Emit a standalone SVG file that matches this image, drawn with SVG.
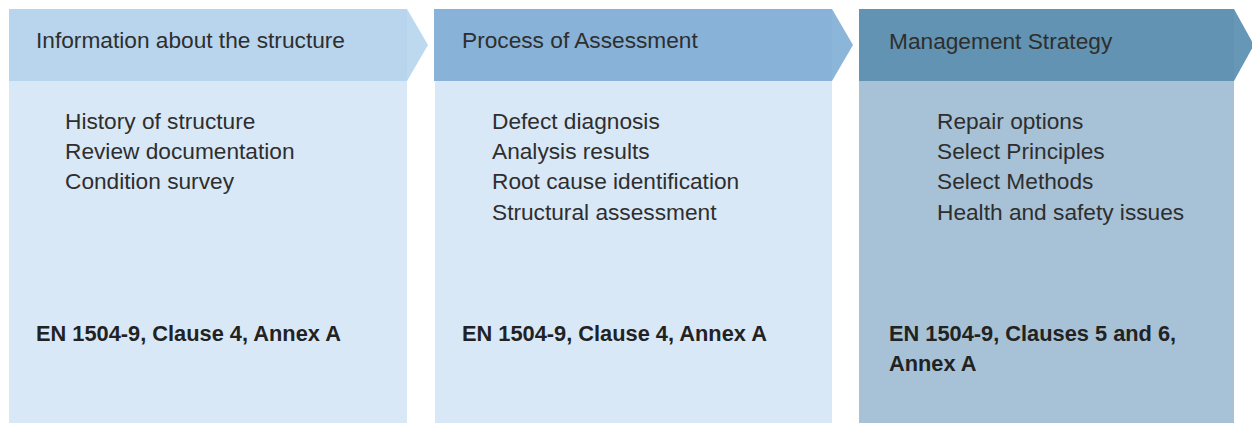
<svg xmlns="http://www.w3.org/2000/svg" width="1252" height="423" viewBox="0 0 1252 423">
<style>
.h{font-family:"Liberation Sans",Arial,sans-serif;font-size:22.7px;fill:#2e2e2e}
.i{font-family:"Liberation Sans",Arial,sans-serif;font-size:22.7px;fill:#2e2e2e}
.b{font-family:"Liberation Sans",Arial,sans-serif;font-size:21.8px;font-weight:bold;fill:#222}
</style>
<rect width="1252" height="423" fill="#ffffff"/>
<g id="node1">
<rect x="9" y="81" width="398" height="342" fill="#d9e8f7"/>
<rect x="9" y="9" width="398" height="72" fill="#b8d5ed"/>
<polygon points="407,9 428,45 407,81" fill="#bdd9f0"/>
<text class="h" x="36" y="48">Information about the structure</text>
<text class="i" x="65" y="129">History of structure</text>
<text class="i" x="65" y="159">Review documentation</text>
<text class="i" x="65" y="189">Condition survey</text>
<text class="b" x="36" y="341">EN 1504-9, Clause 4, Annex A</text>
</g>
<g id="node2">
<rect x="435" y="81" width="397" height="342" fill="#d9e8f7"/>
<rect x="434" y="9" width="398" height="72" fill="#88b2d7"/>
<polygon points="832,9 853,45 832,81" fill="#8cb5da"/>
<text class="h" x="462" y="48">Process of Assessment</text>
<text class="i" x="492" y="129">Defect diagnosis</text>
<text class="i" x="492" y="159">Analysis results</text>
<text class="i" x="492" y="189">Root cause identification</text>
<text class="i" x="492" y="220">Structural assessment</text>
<text class="b" x="462" y="341">EN 1504-9, Clause 4, Annex A</text>
</g>
<g id="node3">
<rect x="859" y="81" width="375" height="342" fill="#a7c2d6"/>
<rect x="859" y="9" width="375" height="72" fill="#6293b2"/>
<polygon points="1234,9 1254,45 1234,81" fill="#6797b6"/>
<text class="h" x="889" y="49">Management Strategy</text>
<text class="i" x="937" y="129">Repair options</text>
<text class="i" x="937" y="159">Select Principles</text>
<text class="i" x="937" y="189">Select Methods</text>
<text class="i" x="937" y="220">Health and safety issues</text>
<text class="b" x="889" y="341">EN 1504-9, Clauses 5 and 6,</text>
<text class="b" x="889" y="371">Annex A</text>
</g>
<g id="connectors"></g>
</svg>
